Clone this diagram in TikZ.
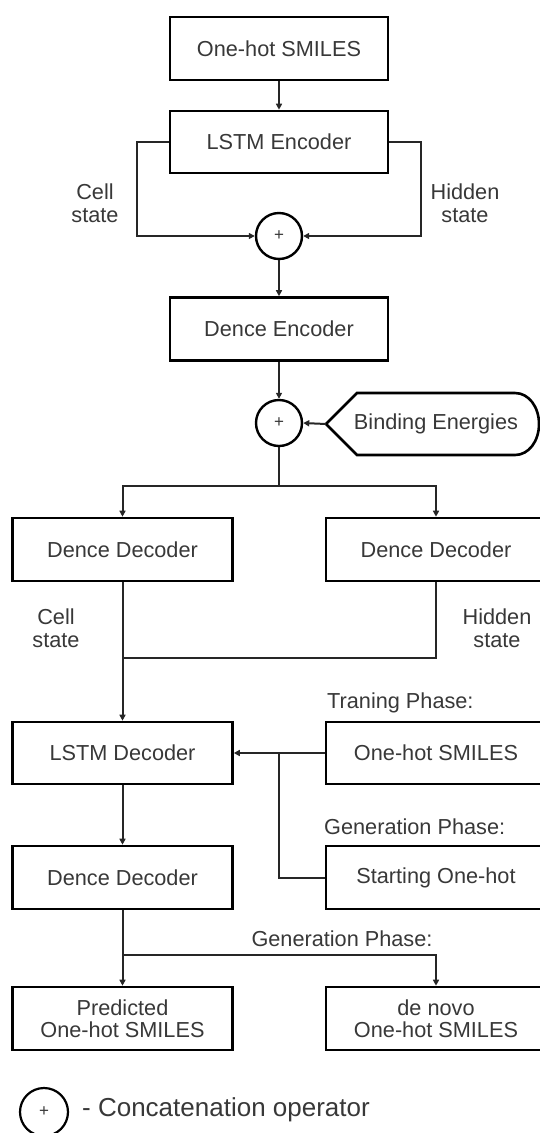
\documentclass[tikz,border=0pt]{standalone}
\usepackage{fontspec}
\setmainfont{Liberation Sans}
\usetikzlibrary{arrows.meta}
\begin{document}
\begin{tikzpicture}[x=1pt,y=-1pt,
  every node/.style={font=\fontsize{21.7}{23}\selectfont, text=black!78},
  blk/.style={draw=black, line width=2.6pt, rectangle, minimum height=63pt,
              minimum width=220pt, inner sep=0pt, align=center},
  cat/.style={draw=black, line width=2.4pt, circle, minimum size=46pt,
              inner sep=0pt, font=\fontsize{17}{17}\selectfont},
  link/.style={draw=black!85, line width=2pt},
  arr/.style={link, -{Triangle[length=6pt,width=6pt]}},
  lbl/.style={align=center, inner sep=0pt},
]
\useasboundingbox (0,0) rectangle (540,1133);

% ---- encoder ----
\node[blk, minimum width=218pt] (oh) at (279,48.5) {One-hot SMILES};
\node[blk, minimum width=218pt, minimum height=62pt] (lstme) at (279,142) {LSTM Encoder};
\node[cat] (c1) at (279,236) {+};
\node[blk, minimum width=218pt] (dene) at (279,329) {Dence Encoder};
\node[cat] (c2) at (279,423) {+};

\node[lbl] (cs1) at (95,203) {Cell\\state};
\node[lbl] (hs1) at (465,203) {Hidden\\state};

\draw[arr] (oh.south) -- (lstme.north);
\draw[arr] (lstme.west) -- ++(-32,0) |- (c1.west);
\draw[arr] (lstme.east) -- ++(32,0) |- (c1.east);
\draw[arr] (c1.south) -- (dene.north);
\draw[arr] (dene.south) -- (c2.north);

% binding energies input (display shape)
\draw[line width=2.6pt] (326,424) -- (357,393) -- (515,393)
  .. controls (528.8,393) and (539,406.9) .. (539,424)
  .. controls (539,441.1) and (528.8,455) .. (515,455)
  -- (357,455) -- cycle;
\node[lbl] (be) at (436,424) {Binding Energies};
\coordinate (bein) at (326,424);
\draw[arr] (bein) -- (c2.east);

% ---- decoder ----
\node[blk] (dd1) at (122.5,549.5) {Dence Decoder};
\node[blk] (dd2) at (436,549.5) {Dence Decoder};
\coordinate (split) at (279,486);
\draw[link] (c2.south) -- (split);
\draw[arr] (split) -| (dd1.north);
\draw[arr] (split) -| (dd2.north);

\node[lbl] (cs2) at (56,628) {Cell\\state};
\node[lbl] (hs2) at (497,628) {Hidden\\state};

\node[blk, minimum height=62pt] (lstmd) at (122.5,753) {LSTM Decoder};
\node[blk, minimum height=62pt] (oh2) at (436,753) {One-hot SMILES};
\node[anchor=west, inner sep=0pt] (tp) at (327,703) {Traning Phase:};

\coordinate (merge) at (122.5,658);
\draw[link] (dd2.south) |- (merge);
\draw[arr] (dd1.south) -- (lstmd.north);

\node[blk] (dd3) at (122.5,877.5) {Dence Decoder};
\node[blk] (st) at (436,877.5) {Starting One-hot};
\node[anchor=west, inner sep=0pt] (gp1) at (324,827) {Generation Phase:};

\coordinate (feed) at (279,753);
\draw[arr] (oh2.west) -- (lstmd.east);
\draw[link] (st.west) -| (feed);
\draw[arr] (lstmd.south) -- (dd3.north);

% ---- outputs ----
\node[blk, font=\fontsize{21.7}{22}\selectfont] (pred) at (122.5,1018.5) {Predicted\\One-hot SMILES};
\node[blk, font=\fontsize{21.7}{22}\selectfont] (denovo) at (436,1018.5) {de novo\\One-hot SMILES};
\node[lbl] (gp2) at (342,939) {Generation Phase:};

\coordinate (split2) at (122.5,955);
\draw[link] (dd3.south) -- (split2);
\draw[arr] (split2) -- (pred.north);
\draw[arr] (split2) -| (denovo.north);

% ---- legend ----
\node[cat, line width=2.2pt, minimum size=48pt] (lg) at (44,1112) {+};
\node[anchor=west, inner sep=0pt, font=\fontsize{26}{26}\selectfont] (lgt) at (82,1110) {- Concatenation operator};
\end{tikzpicture}
\end{document}
